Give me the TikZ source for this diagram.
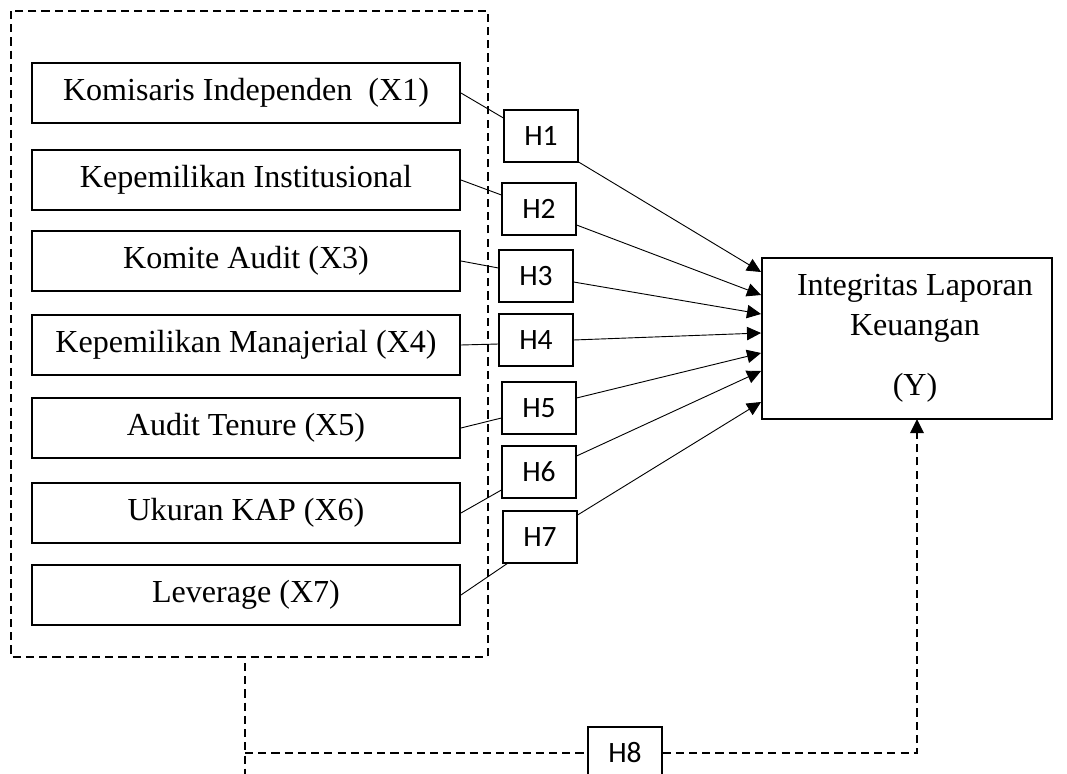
\documentclass[tikz,border=0pt]{standalone}
\usepackage{fontspec}
\setmainfont{Liberation Serif}
\newfontfamily\hfont{Carlito}
\usetikzlibrary{arrows.meta, calc}

\begin{document}
\begin{tikzpicture}[x=0.025cm, y=-0.025cm,
  varbox/.style={draw, line width=1.3pt, minimum width=10.7cm, minimum height=1.5cm,
    font=\fontsize{22.8}{27}\selectfont},
  hbox/.style={draw, line width=0.8pt, minimum width=1.85cm, minimum height=1.3cm,
    fill=white, font=\hfont\fontsize{21}{24}\selectfont},
  link/.style={line width=0.65pt},
  arr/.style={line width=0.65pt, -{Triangle[length=10pt,width=9.5pt]}},
  dashline/.style={line width=1.7pt, dash pattern=on 5.8pt off 3.6pt}]
\useasboundingbox (0,0) rectangle (1067,774);
\clip (0,0) rectangle (1067,774);

% group of independent variables
\draw[dashline] (11,11) rectangle (488,657);
\foreach \i/\yy/\txt in {1/93/{Komisaris Independen\ \ (X1)}, 2/180/{Kepemilikan Institusional},
    3/261/{Komite Audit (X3)}, 4/345/{Kepemilikan Manajerial (X4)}, 5/428/{Audit Tenure (X5)},
    6/513/{Ukuran KAP (X6)}, 7/595/{Leverage (X7)}} {
  \node[varbox] (X\i) at (246,\yy) {\txt};
}

% hypotheses
\foreach \i/\xx/\yy in {1/541/136, 2/539/209, 3/536/276, 4/536/340, 5/539/408, 6/539/472, 7/540/537} {
  \node[hbox] (H\i) at (\xx,\yy) {H\i};
}

% dependent variable
\node[draw, line width=1.3pt, minimum width=7.25cm, minimum height=4.025cm, align=center,
  font=\fontsize{22.8}{28.5}\selectfont] (Y) at (907,338.5)
  {\hspace*{0.4cm}Integritas Laporan\\\hspace*{0.4cm}Keuangan\\[0.5cm]\hspace*{0.4cm}(Y)};

% X -> H
\foreach \i/\ye in {1/118, 2/195, 3/268, 4/344, 5/418, 6/490} {
  \draw[link] (X\i.east) -- (H\i.west |- 0,\ye);
}
\draw[link] (X7.east) -- ([xshift=0.12cm]H7.south west);

% H -> Y
\foreach \i/\ys/\ye in {1/162/272, 2/225/295, 3/282/314, 4/340/333, 5/398/353, 6/456/371, 7/515/402} {
  \draw[arr] (H\i.east |- 0,\ys) -- (Y.west |- 0,\ye);
}

% simultaneous path
\node[hbox] (H8) at (625,753) {H8};
\coordinate (m1) at (245,663);
\coordinate (m2) at (245,774);
\coordinate (m3) at (917,419);
\draw[dashline] (m1) -- (m2);
\draw[dashline] (m1 |- H8) -- (H8.west);
\draw[dashline, -{Triangle[length=10pt,width=9.5pt]}] (H8.east) -| (m3);
\end{tikzpicture}
\end{document}
